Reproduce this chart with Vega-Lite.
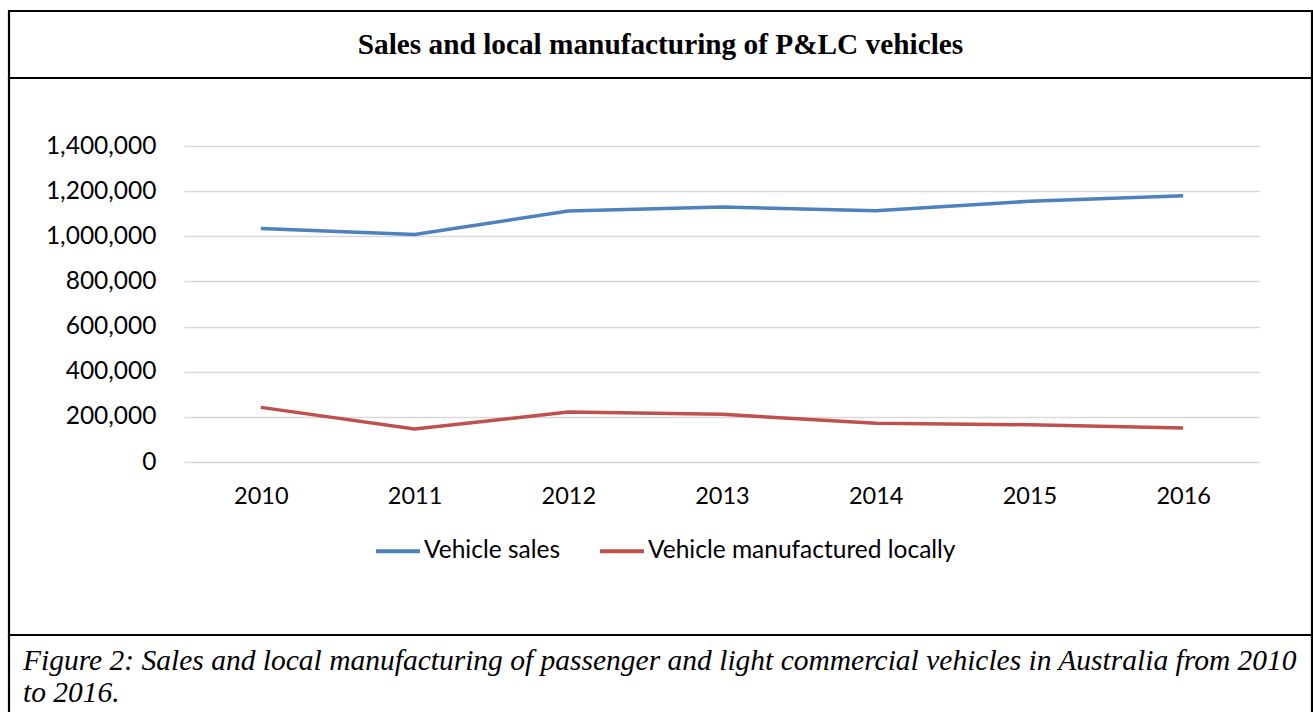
{
  "$schema": "https://vega.github.io/schema/vega-lite/v6.json",
  "padding": {"left": 7, "top": 9, "right": 0, "bottom": 0},
  "background": "white",
  "spacing": 0,
  "bounds": "flush",
  "config": {
    "view": {"stroke": "#000000", "strokeWidth": 2.2},
    "concat": {"spacing": 0}
  },
  "vconcat": [
    {
      "width": 1303,
      "height": 67,
      "view": {"stroke": "#000000", "strokeWidth": 2.2},
      "data": {"values": [{"t": "Sales and local manufacturing of P&LC vehicles"}]},
      "mark": {"type": "text", "font": "Liberation Serif", "fontWeight": "bold", "fontSize": 29.3, "color": "#000000", "baseline": "middle", "dy": 0},
      "encoding": {
        "x": {"datum": 0.5, "type": "quantitative", "scale": {"domain": [0, 1]}, "axis": null},
        "y": {"datum": 0.5, "type": "quantitative", "scale": {"domain": [0, 1]}, "axis": null},
        "text": {"field": "t", "type": "nominal"}
      }
    },
    {
      "width": 1303,
      "height": 557,
      "view": {"stroke": "#000000", "strokeWidth": 2.2},
      "data": {"values": [
        {"year": 2010, "series": "Vehicle sales", "value": 1035000},
        {"year": 2011, "series": "Vehicle sales", "value": 1008000},
        {"year": 2012, "series": "Vehicle sales", "value": 1112000},
        {"year": 2013, "series": "Vehicle sales", "value": 1130000},
        {"year": 2014, "series": "Vehicle sales", "value": 1113000},
        {"year": 2015, "series": "Vehicle sales", "value": 1155000},
        {"year": 2016, "series": "Vehicle sales", "value": 1180000},
        {"year": 2010, "series": "Vehicle manufactured locally", "value": 242000},
        {"year": 2011, "series": "Vehicle manufactured locally", "value": 146000},
        {"year": 2012, "series": "Vehicle manufactured locally", "value": 221000},
        {"year": 2013, "series": "Vehicle manufactured locally", "value": 211000},
        {"year": 2014, "series": "Vehicle manufactured locally", "value": 172000},
        {"year": 2015, "series": "Vehicle manufactured locally", "value": 165000},
        {"year": 2016, "series": "Vehicle manufactured locally", "value": 151000}
      ]},
      "mark": {"type": "line", "strokeWidth": 3.5},
      "encoding": {
        "x": {
          "field": "year", "type": "ordinal",
          "scale": {"type": "point", "range": [175, 1251], "padding": 0.5},
          "axis": {"orient": "bottom", "offset": -173, "ticks": false, "domain": false, "grid": false, "labelPadding": 22, "labelFont": "Lato", "labelFontSize": 23.5, "labelColor": "#000000", "labelAngle": 0, "title": null}
        },
        "y": {
          "field": "value", "type": "quantitative",
          "scale": {"domain": [0, 1400000], "range": [384, 68], "nice": false, "zero": true},
          "axis": {"orient": "left", "offset": -151, "ticks": false, "domain": false, "labelPadding": 4, "values": [0, 200000, 400000, 600000, 800000, 1000000, 1200000, 1400000], "format": ",d", "labelFont": "Lato", "labelFontSize": 24.5, "labelColor": "#000000", "gridColor": "#d9d9d9", "gridWidth": 1.6, "title": null}
        },
        "color": {
          "field": "series", "type": "nominal",
          "scale": {"domain": ["Vehicle sales", "Vehicle manufactured locally"], "range": ["#4f81bd", "#c0504d"]},
          "legend": {"orient": "none", "legendX": 365, "legendY": 516, "direction": "horizontal", "title": null, "padding": 0, "symbolType": "stroke", "symbolSize": 1936, "symbolStrokeWidth": 4, "labelFont": "Lato", "labelFontSize": 24.5, "labelColor": "#000000", "labelOffset": 2, "labelLimit": 500, "columnPadding": 31}
        }
      }
    },
    {
      "width": 1303,
      "height": 100,
      "view": {"stroke": "#000000", "strokeWidth": 2.2},
      "data": {"values": [{"t": ""}]},
      "mark": {"type": "text"},
      "encoding": {
        "x": {"datum": 0.5, "type": "quantitative", "scale": {"domain": [0, 1]}, "axis": null},
        "y": {"datum": 0.5, "type": "quantitative", "scale": {"domain": [0, 1]}, "axis": null},
        "text": {"field": "t", "type": "nominal"}
      },
      "title": {
        "text": ["Figure 2: Sales and local manufacturing of passenger and light commercial vehicles in Australia from 2010", "to 2016."],
        "orient": "top", "anchor": "start", "frame": "group", "offset": -73, "dx": 14, "baseline": "top",
        "font": "Liberation Serif", "fontStyle": "italic", "fontWeight": "normal", "fontSize": 29.5, "lineHeight": 32, "color": "#000000"
      }
    }
  ]
}
